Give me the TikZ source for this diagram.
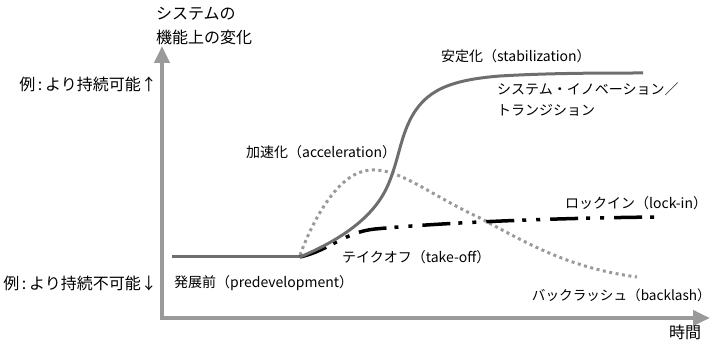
\documentclass[tikz,border=0pt]{standalone}
\usepackage{fontspec}
\setmainfont{Noto Sans CJK JP}
\usetikzlibrary{arrows.meta}
\definecolor{axisgray}{HTML}{9A9A9A}
\definecolor{curvegray}{HTML}{6E6E6E}
\definecolor{dotgray}{HTML}{9A9A9A}
\tikzset{
  lbl/.style={inner sep=0pt, font=\fontsize{14}{18}\selectfont, text=black},
  biglbl/.style={inner sep=0pt, font=\fontsize{16}{20}\selectfont, text=black},
  axisline/.style={draw=axisgray, line width=4pt,
    {Triangle[length=17pt,width=15pt]}-{Triangle[length=17pt,width=15pt]}},
  maincurve/.style={draw=curvegray, line width=3pt},
  dotcurve/.style={draw=dotgray, line width=3pt, dash pattern=on 3pt off 3.5pt},
  lockcurve/.style={draw=black, line width=3.5pt, dash pattern=on 28pt off 8pt on 4pt off 10pt on 4pt off 10pt},
}
\begin{document}
\begin{tikzpicture}[x=1pt,y=-1pt]
\useasboundingbox (0,0) rectangle (716,342);
% axes
\coordinate (ytop) at (162,46);
\coordinate (orig) at (162,318);
\coordinate (xend) at (710,318);
\draw[axisline] (ytop) -- (orig) -- (xend);
% curves
\coordinate (p0) at (172,257);
\coordinate (p1) at (300,257);
\draw[maincurve] (p0) -- (p1);
\draw[dotcurve] (300,255) .. controls (315,215) and (340,172) .. (370,170)
  .. controls (400,168) and (430,195) .. (480,218)
  .. controls (530,245) and (570,268) .. (637,277);
\draw[lockcurve] (p1) .. controls (330,250) and (345,232) .. (375,229)
  .. controls (450,222) and (560,218) .. (657,217);
\draw[maincurve] (p1) .. controls (345,238) and (375,215) .. (388,185)
  .. controls (398,162) and (400,140) .. (410,120)
  .. controls (425,90) and (450,80) .. (500,76)
  .. controls (550,73) and (600,73) .. (643,73);
% labels
\node[biglbl, anchor=west] (ylab1) at (156,14) {システムの};
\node[biglbl, anchor=west] (ylab2) at (156,37) {機能上の変化};
\node[biglbl, anchor=east] (up) at (157,84) {例\,:\,より持続可能↑};
\node[biglbl, anchor=east] (down) at (157,283) {例\,:\,より持続不可能↓};
\node[lbl, anchor=west] (pre) at (174,283) {発展前（predevelopment）};
\node[biglbl, anchor=west] (time) at (669,332) {時間};
\node[lbl, anchor=west] (stab) at (441,56) {安定化（stabilization）};
\node[lbl, anchor=west] (sys1) at (497,89) {システム・イノベーション／};
\node[lbl, anchor=west] (sys2) at (497,110) {トランジション};
\node[lbl, anchor=west] (acc) at (246,152) {加速化（acceleration）};
\node[lbl, anchor=west] (lock) at (565,203) {ロックイン（lock-in）};
\node[lbl, anchor=west] (take) at (342,257) {テイクオフ（take-off）};
\node[lbl, anchor=east, font=\fontsize{13.6}{17}\selectfont] (back) at (711,295) {バックラッシュ（backlash）};
\end{tikzpicture}
\end{document}
